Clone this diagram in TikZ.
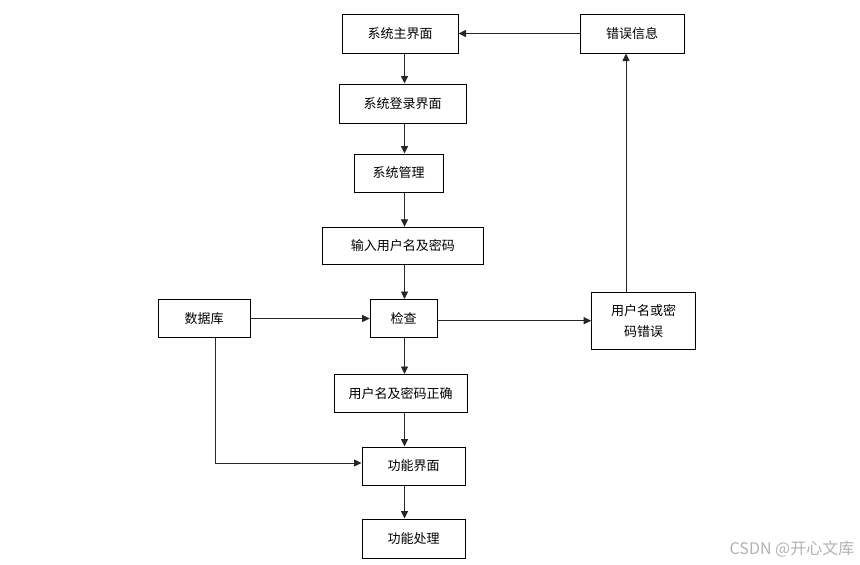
\documentclass[tikz,border=0pt]{standalone}
\usepackage{fontspec}
\setmainfont{Noto Sans CJK SC}
\usetikzlibrary{arrows.meta,calc}
\tikzset{
  box/.style={draw, line width=1pt, minimum height=38pt, inner sep=2pt, font=\fontsize{13}{21}\selectfont},
  link/.style={draw=black!85, line width=0.8pt, -{Triangle[length=7.5pt,width=7pt]}}
}

\begin{document}
\begin{tikzpicture}[x=1pt,y=-1pt]
\useasboundingbox (0,0) rectangle (860,565);
            \node[box, minimum width=116pt, minimum height=39pt] (main) at (400,33.5) {系统主界面};
            \node[box, minimum width=104pt, minimum height=39pt] (err) at (632,33.5) {错误信息};
            \node[box, minimum width=127pt, minimum height=39pt] (login) at (402.5,103.5) {系统登录界面};
            \node[box, minimum width=89pt] (mgr) at (398.5,173) {系统管理};
            \node[box, minimum width=161pt, minimum height=37pt] (input) at (402.8,245.8) {输入用户名及密码};
            \node[box, minimum width=92pt] (db) at (204,318.5) {数据库};
            \node[box, minimum width=67pt] (check) at (403.7,318.5) {检查};
            \node[box, minimum width=104pt, minimum height=57pt, align=center] (fail) at (643.7,320.7) {用户名或密\\码错误};
            \node[box, minimum width=133pt] (ok) at (400.7,393.5) {用户名及密码正确};
            \node[box, minimum width=103pt] (func) at (413.5,466) {功能界面};
            \node[box, minimum width=103pt, minimum height=39pt] (proc) at (413.5,538.5) {功能处理};
            \node[text=black!30, font=\fontsize{16}{18}\selectfont] (mark) at (792,549) {CSDN @开心文库};

            \coordinate (spine) at (404.5,0);
            \coordinate (up) at (626,0);
            \coordinate (dbx) at (215.7,0);

            \draw[link] (main.south -| spine) -- (login.north -| spine);
            \draw[link] (login.south -| spine) -- (mgr.north -| spine);
            \draw[link] (mgr.south -| spine) -- (input.north -| spine);
            \draw[link] (input.south -| spine) -- (check.north -| spine);
            \draw[link] (check.south -| spine) -- (ok.north -| spine);
            \draw[link] (ok.south -| spine) -- (func.north -| spine);
            \draw[link] (func.south -| spine) -- (proc.north -| spine);
            \draw[link] (db.east) -- (check.west);
            \draw[link] (check.east |- fail.west) -- (fail.west);
            \draw[link] (fail.north -| up) -- (err.south -| up);
            \draw[link] (err.west) -- (main.east);
            \draw[link] (db.south -| dbx) |- ([yshift=3pt]func.west);
\end{tikzpicture}
\end{document}
